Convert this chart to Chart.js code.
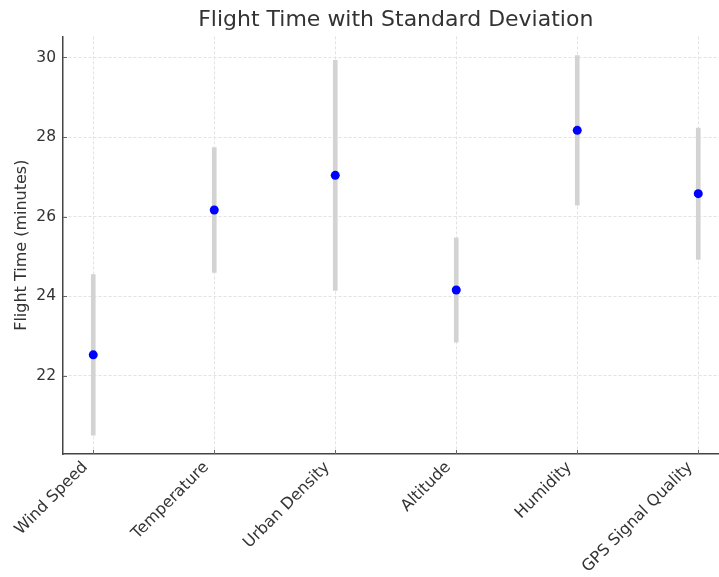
<!DOCTYPE html>
<html>
<head>
<meta charset="utf-8">
<script src="https://cdn.jsdelivr.net/npm/chart.js@4"></script>
<style>
  html, body { margin: 0; padding: 0; background: #fff; overflow: hidden; }
  #wrap { width: 733px; height: 577px; }
</style>
</head>
<body>
<div id="wrap"><canvas id="c" width="733" height="577"></canvas></div>
<script>
const categories = ["Wind Speed", "Temperature", "Urban Density", "Altitude", "Humidity", "GPS Signal Quality"];
const meanFlightTime = [22.53, 26.17, 27.04, 24.16, 28.17, 26.58];
const stdDev = [2.02, 1.57, 2.89, 1.31, 1.88, 1.65];
const yTicks = [22, 24, 26, 28, 30];

const pointData = categories.map((c, i) => ({ x: i, y: meanFlightTime[i] }));
const errData = categories.map((c, i) => ({ x: i, y: [meanFlightTime[i] - stdDev[i], meanFlightTime[i] + stdDev[i]] }));

const FONT = "'DejaVu Sans', sans-serif";
const TXT = '#333333';

const inwardTicks = {
  id: 'inwardTicks',
  afterDraw(chart) {
    const ctx = chart.ctx;
    const xs = chart.scales.x, ys = chart.scales.y;
    const area = chart.chartArea;
    ctx.save();
    ctx.strokeStyle = '#666666';
    ctx.lineWidth = 1;
    xs.ticks.forEach(t => {
      const px = Math.round(xs.getPixelForValue(t.value)) + 0.5;
      ctx.beginPath(); ctx.moveTo(px, area.bottom); ctx.lineTo(px, area.bottom - 4); ctx.stroke();
    });
    ys.ticks.forEach(t => {
      const py = Math.round(ys.getPixelForValue(t.value)) + 0.5;
      ctx.beginPath(); ctx.moveTo(area.left, py); ctx.lineTo(area.left + 4, py); ctx.stroke();
    });
    ctx.restore();
  }
};

new Chart(document.getElementById('c'), {
  type: 'scatter',
  data: {
    datasets: [
      {
        label: 'Mean',
        data: pointData,
        backgroundColor: '#0000ff',
        borderWidth: 0,
        pointRadius: 4.5,
        pointHoverRadius: 4.5,
        order: 1
      },
      {
        type: 'bar',
        label: 'Std Dev',
        data: errData,
        backgroundColor: '#d3d3d3',
        borderWidth: 0,
        barThickness: 4,
        order: 2
      }
    ]
  },
  options: {
    responsive: false,
    animation: false,
    devicePixelRatio: 1,
    layout: { padding: { left: 0, right: 0, top: 0, bottom: 0 } },
    plugins: {
      legend: { display: false },
      tooltip: { enabled: false },
      title: {
        display: true,
        fullSize: false,
        text: 'Flight Time with Standard Deviation',
        color: TXT,
        font: { family: FONT, size: 22, weight: 'normal', lineHeight: 1.2 },
        padding: { top: 7, bottom: 3 }
      }
    },
    scales: {
      x: {
        type: 'linear',
        min: -0.25,
        max: 5.25,
        offset: false,
        afterFit: (s) => { s.height = 123; },
        afterBuildTicks: (s) => { s.ticks = categories.map((c, i) => ({ value: i })); },
        ticks: {
          autoSkip: false,
          minRotation: 45,
          maxRotation: 45,
          padding: 4,
          labelOffset: -8,
          color: TXT,
          font: { family: FONT, size: 16 },
          callback: (v) => categories[v]
        },
        grid: { color: '#e2e2e2', lineWidth: 1, drawTicks: false, offset: false },
        border: { display: true, color: '#444444', width: 1.5, dash: [3, 2] }
      },
      y: {
        type: 'linear',
        min: 20.04,
        max: 30.53,
        afterFit: (s) => { s.width = 63; },
        afterBuildTicks: (s) => { s.ticks = yTicks.map(v => ({ value: v })); },
        ticks: {
          padding: 7,
          color: TXT,
          font: { family: FONT, size: 15.5 }
        },
        title: {
          display: true,
          text: 'Flight Time (minutes)',
          color: TXT,
          font: { family: FONT, size: 16 },
          padding: { top: 12, bottom: 0 }
        },
        grid: { color: '#e2e2e2', lineWidth: 1, drawTicks: false },
        border: { display: true, color: '#444444', width: 1.5, dash: [3, 2] }
      }
    }
  },
  plugins: [inwardTicks]
});
</script>
</body>
</html>
